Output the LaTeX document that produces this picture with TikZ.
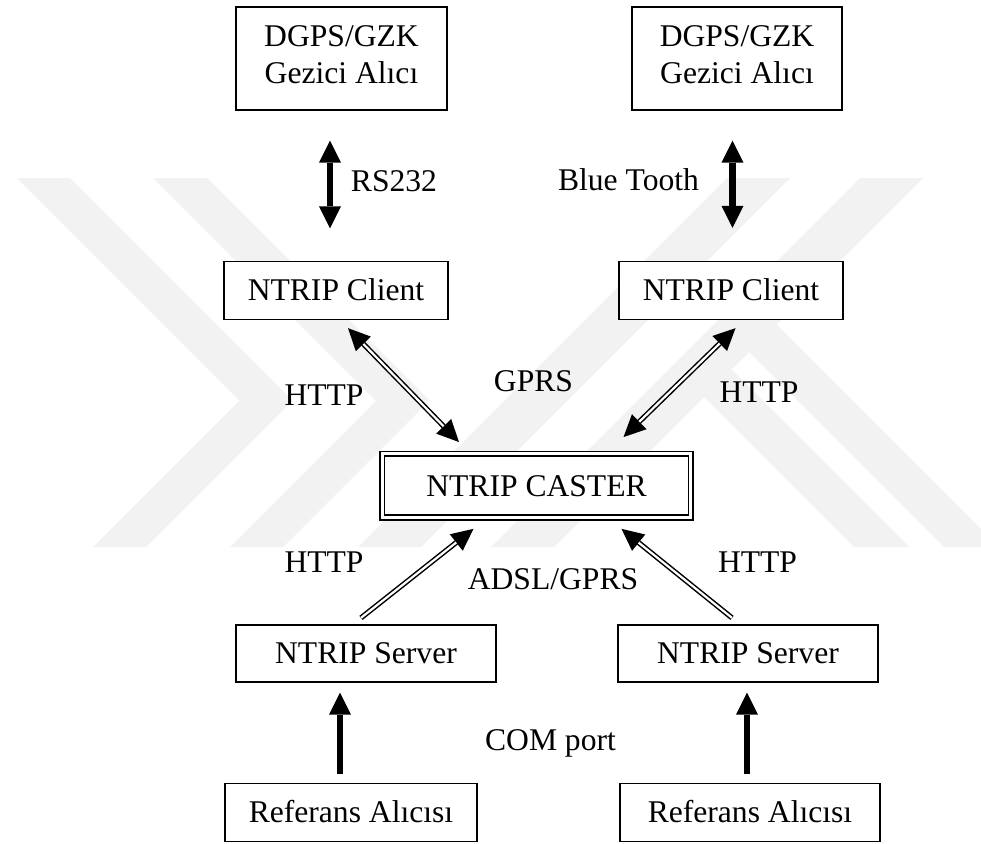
\documentclass[tikz,border=0pt]{standalone}
\usepackage{fontspec}
\setmainfont{Liberation Serif}
\usetikzlibrary{arrows.meta}
\begin{document}
\begin{tikzpicture}[x=1pt,y=-1pt,
  every node/.style={font=\fontsize{31.6pt}{36.7pt}\selectfont, inner sep=0pt},
  box/.style={draw=black, line width=1.3pt, fill=white, text height=20.9pt, text depth=0pt},
  twoline/.style={box, align=center, text height=49.6pt, text depth=0pt},
  caster/.style={draw=black, double=white, line width=1.7pt, double distance=3pt, fill=white, text height=20.9pt, text depth=0pt},
  lbl/.style={text height=20.9pt, text depth=0pt},
  wm/.style={fill=black!5, draw=none},
  bigtip/.tip={Triangle[width=22pt,length=22pt,line width=0pt]},
  smalltip/.tip={Triangle[width=21pt,length=22pt,line width=0pt]},
  thickarrow/.style={draw=black, line width=6.5pt},
  tipline/.style={draw=black, line width=1.5pt},
  dbl/.style={draw=black, double=white, line width=1.5pt, double distance=2.2pt}
]
\useasboundingbox (0,0) rectangle (981,843);
\fill[white] (0,0) rectangle (981,843);
% watermark
\begin{scope}
\clip (0,0) rectangle (981,843);
\fill[wm] (17,178) -- (70,178) -- (292.5,400.5) -- (146,547) -- (93,547) -- (239.5,400.5) -- cycle;
\fill[wm] (153,178) -- (207,178) -- (429.5,400.5) -- (283,547) -- (230,547) -- (376,401) -- cycle;
\fill[wm] (727,178) -- (790,178) -- (421,547) -- (358,547) -- cycle;
\fill[wm] (860,178) -- (923,178) -- (554,547) -- (491,547) -- cycle;
\fill[wm] (672.5,365.5) -- (731.5,369.5) -- (909,547) -- (854,547) -- cycle;
\fill[wm] (717.5,320.5) -- (776.5,324.5) -- (999,547) -- (944,547) -- cycle;
\end{scope}
% nodes
\node[twoline, minimum width=211pt, minimum height=103pt] (g1) at (341.5,58.5) {DGPS/GZK\\Gezici Alıcı};
\node[twoline, minimum width=210pt, minimum height=103pt] (g2) at (737,58.5) {DGPS/GZK\\Gezici Alıcı};
\node[box, minimum width=224pt, minimum height=58pt] (c1) at (336,290.5) {NTRIP Client};
\node[box, minimum width=224pt, minimum height=58pt] (c2) at (731,290.5) {NTRIP Client};
\node[caster, minimum width=308.6pt, minimum height=63.6pt] (cs) at (536.5,485.7) {NTRIP CASTER};
\node[box, minimum width=260pt, minimum height=57pt] (s1) at (366,653.5) {NTRIP Server};
\node[box, minimum width=260pt, minimum height=57pt] (s2) at (748,653.5) {NTRIP Server};
\node[box, minimum width=252pt, minimum height=58pt] (r1) at (351,812.5) {Referans Alıcısı};
\node[box, minimum width=260pt, minimum height=58pt] (r2) at (750,812.5) {Referans Alıcısı};
% labels
\node[lbl] (lrs) at (394,181.5) {RS232};
\node[lbl] (lbt) at (628.5,180.5) {Blue Tooth};
\node[lbl] (lh1) at (324,395) {HTTP};
\node[lbl] (lgp) at (533.5,381) {GPRS};
\node[lbl] (lh2) at (759,392) {HTTP};
\node[lbl] (lh3) at (324,561.7) {HTTP};
\node[lbl] (lad) at (553,579) {ADSL/GPRS};
\node[lbl] (lh4) at (757.5,561.7) {HTTP};
\node[lbl] (lcom) at (550.5,740) {COM port};
% connector end points
\coordinate (a1t) at ([xshift=-11.5pt,yshift=-30pt]g1.south);
\coordinate (a1b) at ([xshift=-6pt,yshift=32.5pt]c1.north);
\coordinate (a2t) at ([xshift=-4.5pt,yshift=-30pt]g2.south);
\coordinate (a2b) at ([xshift=1.5pt,yshift=33pt]c2.north);
\coordinate (d1a) at ([xshift=12pt,yshift=-8pt]c1.south);
\coordinate (d1b) at ([xshift=-77.5pt,yshift=11pt]cs.north);
\coordinate (d2a) at ([xshift=4.5pt,yshift=-8pt]c2.south);
\coordinate (d2b) at ([xshift=87pt,yshift=16pt]cs.north);
\coordinate (d3a) at ([xshift=-5pt,yshift=6.5pt]s1.north);
\coordinate (d3b) at ([xshift=-63pt,yshift=-10.5pt]cs.south);
\coordinate (d4a) at ([xshift=-16pt,yshift=6.5pt]s2.north);
\coordinate (d4b) at ([xshift=85pt,yshift=-10.5pt]cs.south);
\coordinate (b1a) at ([xshift=-11pt,yshift=8.5pt]r1.north);
\coordinate (b1b) at ([xshift=-26pt,yshift=-10pt]s1.south);
\coordinate (b2a) at ([xshift=-3pt,yshift=8.5pt]r2.north);
\coordinate (b2b) at ([xshift=-1pt,yshift=-10pt]s2.south);
% thick arrows
\draw[thickarrow, {bigtip}-{bigtip}] (a1t) -- (a1b);
\draw[thickarrow, {bigtip}-{bigtip}] (a2t) -- (a2b);
\draw[thickarrow, -{bigtip}] (b1a) -- (b1b);
\draw[thickarrow, -{bigtip}] (b2a) -- (b2b);
% double-line arrows: tips first, then double line on top
\draw[tipline, {smalltip}-{smalltip}] (d1a) -- (d1b);
\draw[dbl, shorten <=22pt, shorten >=22pt] (d1a) -- (d1b);
\draw[tipline, {smalltip}-{smalltip}] (d2a) -- (d2b);
\draw[dbl, shorten <=22pt, shorten >=22pt] (d2a) -- (d2b);
\draw[tipline, -{smalltip}] (d3a) -- (d3b);
\draw[dbl, shorten >=22pt] (d3a) -- (d3b);
\draw[tipline, -{smalltip}] (d4a) -- (d4b);
\draw[dbl, shorten >=22pt] (d4a) -- (d4b);
\end{tikzpicture}
\end{document}
